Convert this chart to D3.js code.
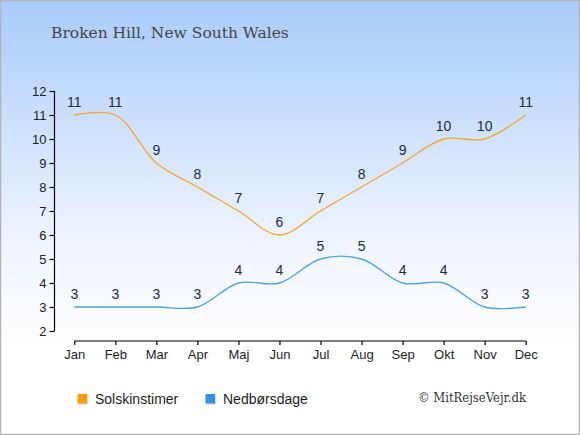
<!DOCTYPE html>
<html><head><meta charset="utf-8">
<script src="https://cdn.jsdelivr.net/npm/d3@7"></script>
<style>
html,body{margin:0;padding:0;background:#fff;}
svg{display:block;}
</style></head>
<body>
<script>
const months = ["Jan","Feb","Mar","Apr","Maj","Jun","Jul","Aug","Sep","Okt","Nov","Dec"];
const sunHours = [11,11,9,8,7,6,7,8,9,10,10,11];
const rainDays = [3,3,3,3,4,4,5,5,4,4,3,3];
const yTicks = [2,3,4,5,6,7,8,9,10,11,12];
const title = "Broken Hill, New South Wales";
const seriesNames = ["Solskinstimer","Nedbørsdage"];
const seriesColors = ["#f7a428","#4ba3ec"];
const legendColors = ["#ff9a00","#2e93e8"];

const W = 580, H = 435;
const svg = d3.select("body").append("svg").attr("width", W).attr("height", H);
const defs = svg.append("defs");
const g = defs.append("linearGradient").attr("id","bg").attr("x1",0).attr("y1",0).attr("x2",0).attr("y2",1);
g.append("stop").attr("offset","0%").attr("stop-color","#a9cbfb");
g.append("stop").attr("offset","55%").attr("stop-color","#eef4fe");
g.append("stop").attr("offset","80%").attr("stop-color","#ffffff");
g.append("stop").attr("offset","100%").attr("stop-color","#ffffff");
svg.append("rect").attr("x",0.5).attr("y",0.5).attr("width",W-1).attr("height",H-1)
  .attr("fill","url(#bg)").attr("stroke","#b4b4b4").attr("stroke-width",1.5);

svg.append("text").attr("x",51).attr("y",38).text(title)
  .attr("font-family","'DejaVu Serif', serif").attr("font-size",15.5).attr("fill","#454545");

const x = d3.scalePoint().domain(months).range([74.3, 525.7]);
const y = d3.scaleLinear().domain([2,12]).range([331, 91]);

const xAxis = svg.append("g").attr("transform","translate(0,341)")
  .call(d3.axisBottom(x).tickSize(4).tickPadding(5).tickSizeOuter(0));
const yAxis = svg.append("g").attr("transform","translate(54.5,0)")
  .call(d3.axisLeft(y).tickValues(yTicks).tickSize(5).tickPadding(3).tickFormat(d3.format("d")).tickSizeOuter(0));
[xAxis,yAxis].forEach(a=>{
  a.selectAll("text").attr("font-family","'Liberation Sans', Arial, sans-serif").attr("font-size",13).attr("fill","#1e1e1e");
  a.select(".domain").attr("stroke","#000").attr("stroke-width",1.2);
  a.selectAll(".tick line").attr("stroke","#000").attr("stroke-width",1.2);
});
// x axis domain from Jan to Dec only
xAxis.select(".domain").attr("d", `M${x("Jan")},0H${x("Dec")}`);
yAxis.select(".domain").attr("d", `M0,${y(2)}V${y(12)}`);

const line = d3.line().x((d,i)=>x(months[i])).y(d=>y(d)).curve(d3.curveCatmullRom.alpha(0.5));
[sunHours, rainDays].forEach((s,k)=>{
  svg.append("path").attr("d", line(s)).attr("fill","none")
    .attr("stroke", seriesColors[k]).attr("stroke-width",1.3);
  svg.append("g").selectAll("text").data(s).join("text")
    .attr("x",(d,i)=>x(months[i])).attr("y",d=>y(d)-8.5)
    .attr("text-anchor","middle").text(d=>d)
    .attr("font-family","'Liberation Sans', Arial, sans-serif").attr("font-size",14).attr("fill","#1d2b4c");
});

// legend
const lx = [77.5, 205.5];
seriesNames.forEach((n,k)=>{
  svg.append("rect").attr("x",lx[k]+1).attr("y",395).attr("width",9.5).attr("height",9.5).attr("fill","#d8d8d8");
  svg.append("rect").attr("x",lx[k]).attr("y",394).attr("width",9.5).attr("height",9.5).attr("fill",legendColors[k]);
  svg.append("text").attr("x",lx[k]+17.5).attr("y",403.5).text(n)
    .attr("font-family","'Liberation Sans', Arial, sans-serif").attr("font-size",14).attr("fill","#1e1e1e");
});
svg.append("text").attr("x",526).attr("y",402).attr("text-anchor","end").text("© MitRejseVejr.dk")
  .attr("font-family","'DejaVu Serif', serif").attr("font-size",13).attr("fill","#333").attr("textLength",108).attr("lengthAdjust","spacingAndGlyphs");
</script>
</body></html>
